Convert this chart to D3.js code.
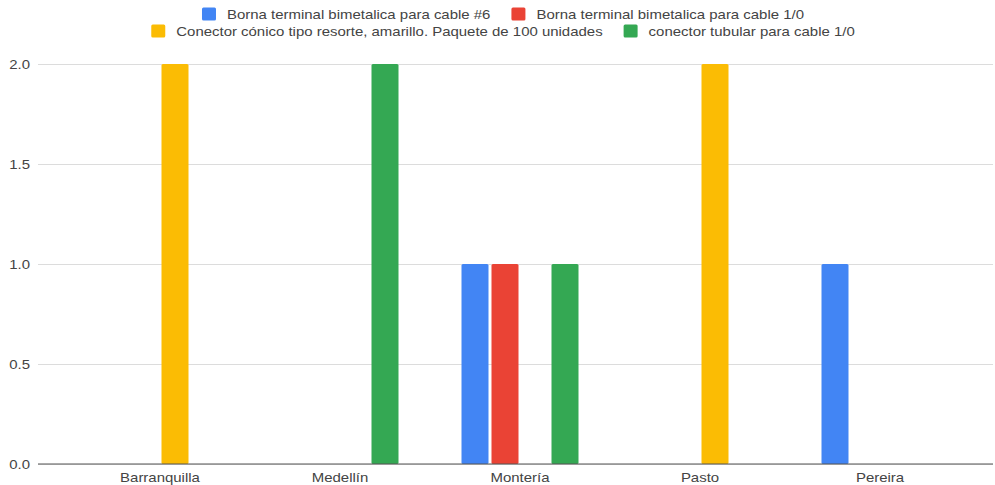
<!DOCTYPE html>
<html>
<head>
<meta charset="utf-8">
<script src="https://cdn.jsdelivr.net/npm/d3@7"></script>
<style>
  html, body { margin: 0; padding: 0; background: #fff; }
  svg { display: block; font-family: "Liberation Sans", Arial, sans-serif; }
</style>
</head>
<body>
<svg id="chart" width="995" height="485"></svg>
<script>
// Cities shown along the x axis
const categories = ["Barranquilla", "Medellín", "Montería", "Pasto", "Pereira"];

// Product series (one bar per city and product)
const seriesNames = [
  "Borna terminal bimetalica para cable #6",
  "Borna terminal bimetalica para cable 1/0",
  "Conector cónico tipo resorte, amarillo. Paquete de 100 unidades",
  "conector tubular para cable 1/0"
];
const bornaCable6   = [0, 0, 1, 0, 1];
const bornaCable10  = [0, 0, 1, 0, 0];
const conectorConico = [2, 0, 0, 2, 0];
const conectorTubular = [0, 2, 1, 0, 0];
const seriesValues = [bornaCable6, bornaCable10, conectorConico, conectorTubular];

const seriesColors = ["#4285F4", "#EA4335", "#FBBC04", "#34A853"];
const yTicks = [0, 0.5, 1.0, 1.5, 2.0];

const svg = d3.select("#chart");
const gridLeft = 38, gridRight = 993;
const plotTop = 64, plotBottom = 464;
const textStretch = 1.15; // labels are set slightly wide

// Widen a text node horizontally while keeping its anchor
function widen(sel) {
  sel.each(function () {
    const w = this.getComputedTextLength();
    d3.select(this).attr("textLength", w * textStretch).attr("lengthAdjust", "spacingAndGlyphs");
  });
}

const x0 = d3.scaleBand().domain(categories).range([70, 970]).padding(0);
const groupWidth = 117;
const x1 = d3.scaleBand().domain(d3.range(seriesNames.length))
  .range([0, groupWidth]).paddingInner(0.1).paddingOuter(0);
const y = d3.scaleLinear().domain([0, 2]).range([plotBottom, plotTop]);

// Horizontal gridlines and y tick labels
const yAxis = d3.axisLeft(y).tickValues(yTicks).tickFormat(d3.format(".1f"))
  .tickSize(-(gridRight - gridLeft)).tickPadding(8);
const gy = svg.append("g").attr("transform", `translate(${gridLeft},0)`).call(yAxis);
gy.select(".domain").remove();
gy.selectAll(".tick line").attr("stroke", "#dcdcdc").attr("stroke-width", 1);
gy.selectAll(".tick text").attr("fill", "#444").attr("font-size", 13)
  .attr("font-family", "Liberation Sans, Arial, sans-serif").call(widen);

// Bars
const groups = svg.append("g").selectAll("g").data(categories).join("g")
  .attr("transform", d => `translate(${x0(d) + (x0.bandwidth() - groupWidth) / 2},0)`);
groups.selectAll("rect")
  .data((c, ci) => seriesValues.map((vals, si) => ({ si, v: vals[ci] })).filter(d => d.v > 0))
  .join("rect")
  .attr("x", d => x1(d.si))
  .attr("width", x1.bandwidth())
  .attr("y", d => y(d.v))
  .attr("height", d => y(0) - y(d.v))
  .attr("rx", 1.5)
  .attr("fill", d => seriesColors[d.si]);

// Baseline
svg.append("line").attr("x1", gridLeft).attr("x2", gridRight)
  .attr("y1", y(0)).attr("y2", y(0)).attr("stroke", "#555").attr("stroke-width", 1.2);

// X axis labels
const xAxis = d3.axisBottom(x0).tickSize(0).tickPadding(9);
const gx = svg.append("g").attr("transform", `translate(0,${plotBottom})`).call(xAxis);
gx.select(".domain").remove();
gx.selectAll(".tick text").attr("fill", "#444").attr("font-size", 13)
  .attr("font-family", "Liberation Sans, Arial, sans-serif").call(widen);

// Legend: two centered rows of swatch + label
const legendRows = [[0, 1], [2, 3]];
const legendCenter = 503;
const rowY = [14, 31];
const legend = svg.append("g");
legendRows.forEach((row, ri) => {
  const g = legend.append("g");
  let cx = 0;
  row.forEach((si, k) => {
    const item = g.append("g").attr("transform", `translate(${cx},0)`);
    item.append("rect").attr("x", 0).attr("y", rowY[ri] - 6.5).attr("width", 14).attr("height", 13)
      .attr("rx", 1.5).attr("fill", seriesColors[si]);
    const t = item.append("text").attr("x", 25).attr("y", rowY[ri] + 4.5)
      .attr("font-size", 13).attr("fill", "#444").text(seriesNames[si]);
    const w = t.node().getComputedTextLength() * textStretch;
    t.attr("textLength", w).attr("lengthAdjust", "spacingAndGlyphs");
    cx += 25 + w + 21;
  });
  const total = cx - 21;
  g.attr("transform", `translate(${legendCenter - total / 2},0)`);
});
</script>
</body>
</html>
